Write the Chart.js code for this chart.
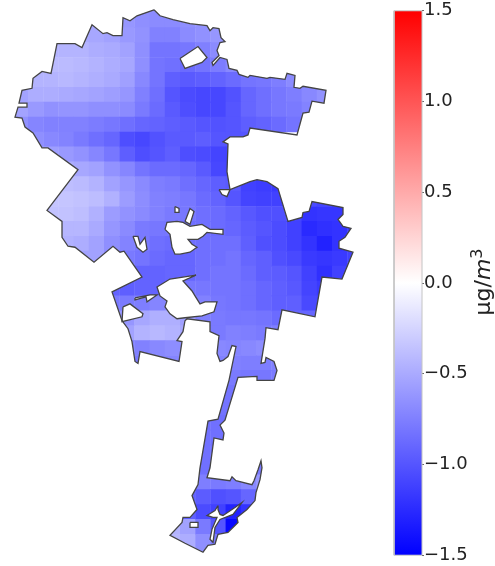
<!DOCTYPE html>
<html>
<head>
<meta charset="utf-8">
<title>Los Angeles concentration change</title>
<script src="https://cdn.jsdelivr.net/npm/chart.js@4"></script>
<style>
  body { margin: 0; background: #fff; }
  canvas { display: block; filter: blur(0.7px); }
</style>
</head>
<body>
<canvas id="chart" width="495" height="566"></canvas>
<script>
const _ = null;

// change in concentration per grid cell, one row per 15 map units going south
const gridValues = [
  [_,_,_,_,_,_,_,_,-.66,-.66,-.66],
  [_,_,_,_,_,-.52,-.54,-.62,-.66,-.68,-.68,-.66,-.64,-.62],
  [_,_,_,_,-.5,-.52,-.55,-.6,-.64,-.74,-.74,-.68,-.65,-.62,-.6],
  [_,_,-.44,-.44,-.44,-.48,-.5,-.55,-.66,-.82,-.82,-.8,-.75,-.68,-.65],
  [_,-.4,-.4,-.4,-.42,-.45,-.48,-.52,-.66,-.82,-.84,-.87,-.82,-.77,-.7],
  [_,-.44,-.44,-.42,-.44,-.47,-.5,-.56,-.7,-.82,-.94,-.97,-.95,-.92,-.87,-.82,-.8,-.76,-.68],
  [-.54,-.48,-.48,-.5,-.52,-.54,-.57,-.62,-.75,-.85,-1,-1.06,-1.08,-1.08,-1.02,-.9,-.85,-.8,-.76,-.7,-.64],
  [-.54,-.6,-.65,-.63,-.63,-.66,-.66,-.68,-.78,-.87,-.97,-1.04,-1.08,-1.08,-1,-.9,-.85,-.8,-.78,-.73],
  [-.65,-.72,-.74,-.74,-.74,-.77,-.8,-.85,-.9,-.92,-.95,-.97,-1,-1.02,-1,-.95,-.92,-.87,-.82,-.78],
  [_,-.66,-.7,-.73,-.78,-.85,-.9,-1.04,-1.08,-1.02,-.97,-.97,-.95,-1,-1,-1],
  [_,_,-.57,-.6,-.64,-.71,-.8,-.95,-1.04,-1,-.95,-1.04,-1.06,-1.1,-1.1],
  [_,_,_,-.48,-.52,-.55,-.64,-.71,-.82,-.87,-.87,-.9,-.97,-1.08,-1.1],
  [_,_,_,-.38,-.4,-.45,-.55,-.62,-.69,-.76,-.78,-.85,-.9,-.95,-.97,-1.12,-1.14,-1.17,-1.16],
  [_,_,-.34,-.34,-.36,-.39,-.46,-.58,-.67,-.74,-.76,-.8,-.87,-.92,-1,-1.1,-1.12,-1.12,-1.1,-1.06,-1.1,-1.12],
  [_,_,-.36,-.36,-.38,-.46,-.58,-.64,-.69,-.74,-.78,-.8,-.85,-.87,-.92,-.98,-1.03,-1.03,-1.1,-1.2,-1.18,-1.18,-1.15],
  [_,_,-.43,-.43,-.43,-.5,-.62,-.69,-.78,-.8,-.8,-.85,-.85,-.87,-.9,-.96,-1,-1.05,-1.12,-1.25,-1.22,-1.2,-1.15],
  [_,_,_,-.46,-.48,-.55,-.66,-.73,-.78,-.85,-.87,-.85,-.85,-.85,-.85,-.94,-1.03,-1.05,-1.12,-1.2,-1.3,-1.2,-1.15],
  [_,_,_,_,-.55,-.55,-.66,-.78,-.82,-.87,-.9,-.9,-.85,-.85,-.82,-.9,-.94,-1.03,-1.07,-1.16,-1.18,-1.16,-1.12],
  [_,_,_,_,_,_,-.82,-.9,-.92,-.92,-.9,-.9,-.85,-.82,-.82,-.87,-.94,-.96,-1,-1.12,-1.22,-1.12],
  [_,_,_,_,_,_,-.92,-.94,-.92,-.92,-.87,-.8,-.8,-.82,-.82,-.85,-.9,-.94,-.98,-1.1,-1.16],
  [_,_,_,_,_,_,-.78,-.78,-.76,-.72,-.7,-.67,-.74,-.8,-.82,-.85,-.9,-.94,-.94,-1.07,-1.1],
  [_,_,_,_,_,_,-.66,-.62,-.52,-.47,-.47,-.56,-.74,-.78,-.8,-.8,-.82,-.87,-.9,-.9],
  [_,_,_,_,_,_,_,-.55,-.45,-.42,-.45,-.52,-.67,-.78,-.74,-.76,-.78,-.76],
  [_,_,_,_,_,_,_,-.74,-.74,-.7,-.67,-.65,_,-.7,-.72,-.7,-.67,-.67],
  [_,_,_,_,_,_,_,_,-.78,-.74,-.72,-.7,_,-.74,-.74,-.76,-.76,-.74],
  [_,_,_,_,_,_,_,_,_,_,_,_,_,-.78,-.78,-.8,-.8,-.78],
  [_,_,_,_,_,_,_,_,_,_,_,_,_,-.82,-.82],
  [_,_,_,_,_,_,_,_,_,_,_,_,_,-.82,-.82],
  [_,_,_,_,_,_,_,_,_,_,_,_,-.84,-.84,-.84],
  [_,_,_,_,_,_,_,_,_,_,_,_,-.84,-.84,-.84],
  [_,_,_,_,_,_,_,_,_,_,_,_,-.84,-.84],
  [_,_,_,_,_,_,_,_,_,_,_,_,-.84,-.84,_,_,-.78],
  [_,_,_,_,_,_,_,_,_,_,_,_,-.76,-.78,-.76,-.7,-.62],
  [_,_,_,_,_,_,_,_,_,_,_,-.92,-.96,-1.03,-1,-.9,-.78],
  [_,_,_,_,_,_,_,_,_,_,_,-.95,-1.06,-1.12,-1.3,-1.2,-1],
  [_,_,_,_,_,_,_,_,_,_,-.44,-.55,-.78,-1,-1.45,-1.45],
  [_,_,_,_,_,_,_,_,_,_,-.42,-.48,-.66,-.78,-1.1],
  [_,_,_,_,_,_,_,_,_,_,_,_,-.66,-.78]
];
const gridOriginX = 13;
const gridOriginY = -3;
const cellWidth = 15.2;
const cellHeight = 15;

// city limit and the enclaves cut out of it, in map units
const cityOutline = [
  [154,9],[160,15],[173,19],[190,23],[207,25],[210,30],[213,27],[219,28],[221,37],[225,41],[220,42],[217,50],[219,55],
  [212,62],[213,65],[220,57],[227,59],[229,68],[237,70],[239,74],[248,77],[250,75],[267,78],[270,77],[285,79],[287,73],
  [295,75],[294,87],[300,88],[303,86],[326,90],[324,103],[312,101],[309,112],[303,113],[297,135],[250,128],[248,135],
  [243,137],[230,137],[223,142],[228,144],[227,172],[230,190],[250,182],[257,180],[267,182],[278,189],[288,222],
  [302,218],[303,213],[309,212],[312,202],[343,208],[343,215],[338,220],[343,227],[351,229],[345,238],[339,242],
  [339,249],[353,253],[342,280],[322,278],[315,318],[282,311],[278,331],[266,329],[265,340],[261,365],[265,364],
  [266,359],[274,363],[277,372],[274,382],[257,382],[257,378],[238,379],[225,422],[220,427],[224,435],[223,442],
  [214,440],[210,470],[207,480],[230,483],[232,479],[236,483],[252,487],[254,483],[258,472],[261,463],[262,470],
  [260,482],[256,495],[255,503],[247,512],[237,520],[238,525],[228,535],[218,537],[215,547],[208,548],[203,555],
  [185,546],[170,538],[182,525],[183,520],[190,520],[197,512],[192,498],[198,487],[200,470],[208,423],[218,421],
  [229,382],[236,348],[232,347],[228,358],[223,362],[220,363],[217,355],[219,337],[210,333],[210,323],[187,320],
  [185,322],[183,333],[177,342],[182,343],[179,363],[140,353],[138,365],[135,363],[132,343],[128,330],[122,322],
  [112,293],[142,278],[124,252],[120,253],[113,247],[94,263],[75,248],[68,247],[62,238],[62,222],[47,211],[78,170],
  [48,148],[42,148],[33,133],[25,127],[22,118],[15,117],[18,107],[27,107],[27,103],[19,103],[22,90],[32,88],[33,78],
  [42,71],[51,73],[57,43],[75,43],[82,47],[92,24],[103,33],[107,32],[113,35],[122,35],[123,17],[130,20],[137,15],[154,9]
];
const northEnclave = [[180,58],[198,46],[207,57],[202,62],[185,68],[180,58]];
const passEnclave = [[219,190],[230,190],[227,197],[222,195],[219,190]];
const pocketSpot = [[133,237],[138,237],[140,245],[145,238],[147,250],[143,253],[137,248],[133,237]];
const roundSpot = [[175,207],[179,209],[179,213],[175,213],[175,207]];
const longSpot = [[185,222],[190,209],[194,212],[190,225],[185,222]];
const westEnclave = [
  [165,230],[167,223],[177,222],[183,223],[190,227],[202,225],[210,230],[223,230],[223,235],[207,233],[203,237],
  [198,240],[188,240],[192,245],[197,248],[190,253],[180,255],[175,255],[172,248],[170,235],[165,230]
];
const southEnclave = [
  [196,276],[183,282],[192,292],[195,297],[200,305],[205,303],[217,303],[214,313],[202,317],[185,319],[177,320],
  [170,315],[165,308],[167,302],[160,297],[157,288],[170,280],[196,276]
];
const marina = [[123,308],[130,305],[143,315],[142,318],[122,323],[123,308]];
const ballona = [[135,299],[150,296],[157,296],[147,303],[146,298],[135,301],[135,299]];
const harbour = [
  [218,508],[215,513],[207,518],[213,520],[217,520],[212,532],[210,542],[213,545],[215,530],[220,522],[233,517],
  [242,505],[235,510],[223,518],[220,517],[218,512],[218,508]
];
const harbourSpot = [[190,525],[198,525],[198,530],[190,530],[190,525]];
const enclaves = [northEnclave, passEnclave, pocketSpot, roundSpot, longSpot, westEnclave, southEnclave, marina, ballona, harbour, harbourSpot];

const colorbarTicks = [-1.5, -1, -0.5, 0, 0.5, 1, 1.5];
const colorbarLeft = 394;
const colorbarRight = 422;
const axisUnit = ["μg/", "m", "3"];

function cellColor(v) {
  const t = Math.min(1, Math.abs(v) / 1.5);
  const c = Math.round(255 * (1 - t));
  return v < 0 ? `rgb(${c},${c},255)` : `rgb(255,${c},${c})`;
}

const cells = [];
gridValues.forEach((row, r) => {
  row.forEach((v, c) => {
    if (v !== null) {
      cells.push({ x: gridOriginX + (c + 0.5) * cellWidth, y: gridOriginY + (r + 0.5) * cellHeight, v: v });
    }
  });
});

const toPoints = poly => poly.map(p => ({ x: p[0], y: p[1] }));

const outlineSets = [cityOutline].concat(enclaves).map(poly => ({
  label: "outline",
  data: toPoints(poly),
  xAxisID: "x",
  yAxisID: "yMap",
  showLine: true,
  borderColor: "#444",
  borderWidth: 1.3,
  pointRadius: 0,
  clip: false,
  order: 1
}));

const clipToCity = {
  id: "clipToCity",
  beforeDatasetDraw(chart, args) {
    if (chart.data.datasets[args.index].label !== "cells") return;
    const x = chart.scales.x, y = chart.scales.yMap, ctx = chart.ctx;
    ctx.save();
    ctx.beginPath();
    [cityOutline].concat(enclaves).forEach(poly => {
      poly.forEach((p, i) => {
        const px = x.getPixelForValue(p[0]), py = y.getPixelForValue(p[1]);
        if (i === 0) ctx.moveTo(px, py); else ctx.lineTo(px, py);
      });
      ctx.closePath();
    });
    ctx.clip("evenodd");
  },
  afterDatasetDraw(chart, args) {
    if (chart.data.datasets[args.index].label === "cells") chart.ctx.restore();
  }
};

// Chart.js turns a right axis title the other way, so the unit is written here
const unitLabel = {
  id: "unitLabel",
  afterDraw(chart) {
    const ctx = chart.ctx, scale = chart.scales.yBar;
    ctx.save();
    ctx.translate(490, scale.getPixelForValue(0) - 1);
    ctx.rotate(-Math.PI / 2);
    ctx.fillStyle = "#222";
    ctx.textBaseline = "alphabetic";
    const font = "22px 'DejaVu Sans'";
    ctx.font = font;
    const w1 = ctx.measureText(axisUnit[0]).width;
    ctx.font = "italic " + font;
    const w2 = ctx.measureText(axisUnit[1]).width;
    ctx.font = "16px 'DejaVu Sans'";
    const w3 = ctx.measureText(axisUnit[2]).width;
    let pos = -(w1 + w2 + w3) / 2;
    ctx.font = font;
    ctx.fillText(axisUnit[0], pos, 0);
    pos += w1;
    ctx.font = "italic " + font;
    ctx.fillText(axisUnit[1], pos, 0);
    pos += w2;
    ctx.font = "16px 'DejaVu Sans'";
    ctx.fillText(axisUnit[2], pos, -8);
    ctx.restore();
  }
};

new Chart(document.getElementById("chart"), {
  type: "scatter",
  data: {
    datasets: [
      {
        label: "cells",
        data: cells,
        xAxisID: "x",
        yAxisID: "yMap",
        pointStyle: "rect",
        pointBorderWidth: 0,
        pointRadius: (ctx) => {
          const sc = ctx.chart.scales.x;
          return (Math.abs(sc.getPixelForValue(cellWidth) - sc.getPixelForValue(0)) + 0.4) / Math.SQRT2;
        },
        pointBackgroundColor: (ctx) => ctx.raw ? cellColor(ctx.raw.v) : "#fff",
        clip: false,
        order: 2
      },
      ...outlineSets,
      {
        label: "colorbar",
        data: [
          { x: colorbarLeft, y: colorbarTicks[0] },
          { x: colorbarRight, y: colorbarTicks[0] },
          { x: colorbarRight, y: colorbarTicks[6] },
          { x: colorbarLeft, y: colorbarTicks[6] },
          { x: colorbarLeft, y: colorbarTicks[0] }
        ],
        xAxisID: "x",
        yAxisID: "yBar",
        showLine: true,
        pointRadius: 0,
        borderColor: "#c4c4c4",
        borderWidth: 1,
        fill: "shape",
        backgroundColor: (ctx) => {
          const chart = ctx.chart, scale = chart.scales.yBar;
          if (!scale || !chart.chartArea) return "#fff";
          const g = chart.ctx.createLinearGradient(0, scale.getPixelForValue(-1.5), 0, scale.getPixelForValue(1.5));
          g.addColorStop(0, "#0000ff");
          g.addColorStop(0.5, "#ffffff");
          g.addColorStop(1, "#ff0000");
          return g;
        },
        clip: false,
        order: 3
      }
    ]
  },
  options: {
    responsive: false,
    animation: false,
    events: [],
    layout: { padding: { top: 10, bottom: 8, left: 0, right: 0 } },
    plugins: { legend: { display: false }, tooltip: { enabled: false } },
    scales: {
      x: { type: "linear", display: false, min: 0, max: colorbarRight },
      yMap: { type: "linear", display: false, reverse: true, min: 10, max: 558 },
      yBar: {
        type: "linear",
        position: "right",
        min: -1.5,
        max: 1.5,
        afterFit: (scale) => { scale.width = 495 - colorbarRight; },
        afterBuildTicks: (scale) => { scale.ticks = colorbarTicks.map(v => ({ value: v })); },
        border: { display: false },
        grid: { drawOnChartArea: false, drawTicks: true, tickLength: 2, color: "#666" },
        ticks: {
          color: "#222",
          padding: 0,
          font: { family: "'DejaVu Sans'", size: 18 },
          callback: (v) => (v < 0 ? "\u2212" + Math.abs(v).toFixed(1) : v.toFixed(1))
        }
      }
    }
  },
  plugins: [clipToCity, unitLabel]
});
</script>
</body>
</html>
